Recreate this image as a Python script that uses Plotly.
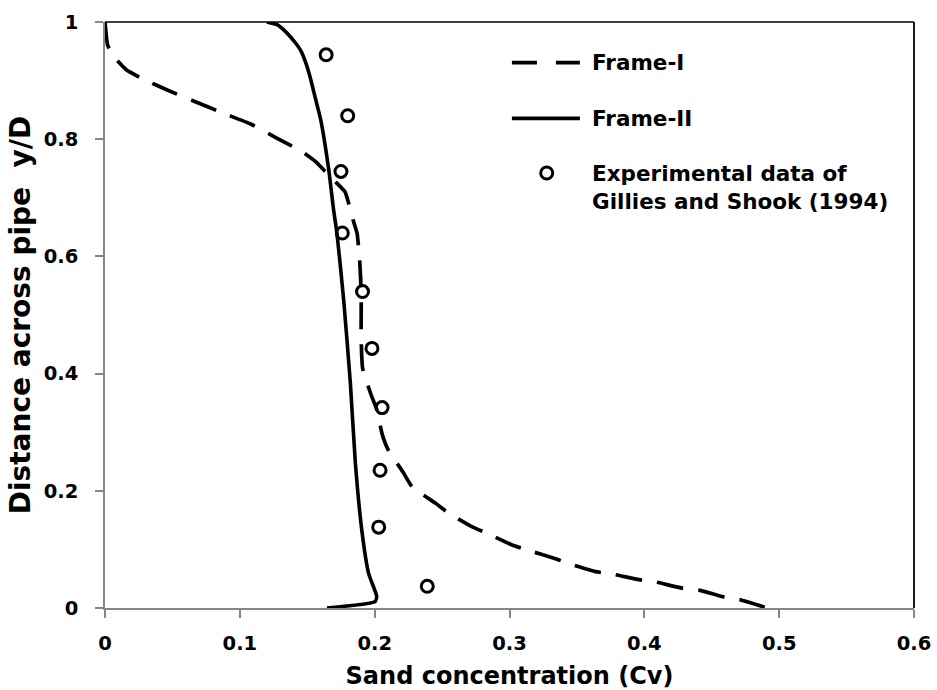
import plotly.graph_objects as go

# Frame-I model profile (sand concentration Cv vs. y/D)
frame1_cv = [0.000, 0.002, 0.008, 0.016, 0.027, 0.047, 0.067, 0.088, 0.108, 0.128,
             0.146, 0.156, 0.167, 0.178, 0.184, 0.187, 0.189, 0.190, 0.190, 0.191,
             0.197, 0.2017, 0.2054, 0.210, 0.221, 0.2277, 0.245, 0.2548, 0.272, 0.2833,
             0.302, 0.313, 0.333, 0.3438, 0.364, 0.376, 0.397, 0.407, 0.428, 0.440,
             0.460, 0.471, 0.491]
frame1_y = [1.000, 0.960, 0.937, 0.918, 0.904, 0.883, 0.864, 0.844, 0.826, 0.801,
            0.779, 0.762, 0.736, 0.710, 0.662, 0.639, 0.588, 0.540, 0.460, 0.410,
            0.366, 0.338, 0.298, 0.270, 0.232, 0.207, 0.179, 0.162, 0.139, 0.1275,
            0.1075, 0.099, 0.085, 0.076, 0.062, 0.058, 0.048, 0.045, 0.034, 0.031,
            0.018, 0.014, 0.000]

# Frame-II model profile
frame2_cv = [0.120, 0.128, 0.135, 0.141, 0.145, 0.149, 0.152, 0.156, 0.160, 0.166,
             0.1695, 0.172, 0.177, 0.182, 0.1856, 0.1906, 0.1955, 0.2015, 0.2003, 0.1646]
frame2_y = [1.000, 0.995, 0.981, 0.965, 0.952, 0.930, 0.907, 0.870, 0.833, 0.747,
            0.680, 0.640, 0.526, 0.383, 0.250, 0.130, 0.059, 0.020, 0.011, 0.000]

# Experimental data of Gillies and Shook (1994)
exp_cv = [0.239, 0.203, 0.204, 0.2055, 0.198, 0.191, 0.176, 0.175, 0.180, 0.164]
exp_y = [0.037, 0.138, 0.235, 0.342, 0.443, 0.540, 0.640, 0.745, 0.840, 0.944]

x_ticks = [0, 0.1, 0.2, 0.3, 0.4, 0.5, 0.6]
y_ticks = [0, 0.2, 0.4, 0.6, 0.8, 1.0]

FONT = "DejaVu Sans"
AXIS_GRAY = "#868686"

fig = go.Figure()
fig.add_trace(go.Scatter(x=frame1_cv, y=frame1_y, mode="lines", name="Frame-I",
                         line=dict(color="black", width=3.7, dash="27px,15px",
                                   shape="spline", smoothing=0.4)))
fig.add_trace(go.Scatter(x=frame2_cv, y=frame2_y, mode="lines", name="Frame-II",
                         line=dict(color="black", width=3.6, shape="spline", smoothing=0.5)))
fig.add_trace(go.Scatter(x=exp_cv, y=exp_y, mode="markers",
                         name="Experimental data of<br>Gillies and Shook (1994)",
                         marker=dict(symbol="circle-open", size=12, color="black",
                                     line=dict(width=3, color="black"))))

# Hand-placed legend: line samples, marker sample and labels
leg_x0, leg_x1, leg_text_x = 0.503, 0.587, 0.5995
shapes = [
    dict(type="line", xref="paper", yref="paper", x0=leg_x0, x1=leg_x1, y0=0.9306, y1=0.9306,
         line=dict(color="black", width=3.7, dash="25px,19px")),
    dict(type="line", xref="paper", yref="paper", x0=leg_x0, x1=leg_x1, y0=0.8357, y1=0.8357,
         line=dict(color="black", width=3.7)),
    dict(type="circle", xref="paper", yref="paper", xsizemode="pixel", ysizemode="pixel",
         xanchor=0.546, yanchor=0.7423, x0=-6, x1=6, y0=-6, y1=6,
         line=dict(color="black", width=3)),
    # plot-area frame on top and right
    dict(type="line", xref="paper", yref="paper", x0=0, x1=1, y0=1, y1=1,
         line=dict(color="black", width=1.5)),
    dict(type="line", xref="paper", yref="paper", x0=1, x1=1, y0=0, y1=1,
         line=dict(color="black", width=1.8)),
]
leg_font = dict(family=FONT, size=21.5, color="black", weight="bold")
annotations = [
    dict(xref="paper", yref="paper", x=leg_text_x, y=0.9306, text="Frame-I", showarrow=False,
         xanchor="left", yanchor="middle", font=leg_font),
    dict(xref="paper", yref="paper", x=leg_text_x, y=0.8357, text="Frame-II", showarrow=False,
         xanchor="left", yanchor="middle", font=leg_font),
    dict(xref="paper", yref="paper", x=leg_text_x, y=0.7184, align="left",
         text="Experimental data of<br>Gillies and Shook (1994)", showarrow=False,
         xanchor="left", yanchor="middle", font=leg_font),
]

tick_font = dict(family=FONT, size=19.5, color="black", weight="bold")

fig.update_layout(
    width=937, height=690,
    margin=dict(l=105, r=23, t=22, b=82),
    paper_bgcolor="white", plot_bgcolor="white",
    showlegend=False,
    shapes=shapes, annotations=annotations,
    xaxis=dict(range=[0, 0.6], tickvals=x_ticks, ticktext=[f"{v:g}" for v in x_ticks],
               showgrid=False, zeroline=False, showline=True, linecolor=AXIS_GRAY, linewidth=1.5,
               ticks="outside", ticklen=8, tickwidth=1.5, tickcolor=AXIS_GRAY,
               tickfont=tick_font, ticklabelstandoff=9, automargin=False,
               title=dict(text="Sand concentration (Cv)", standoff=14,
                          font=dict(family=FONT, size=24, color="black", weight="bold"))),
    yaxis=dict(range=[0, 1], tickvals=y_ticks, ticktext=[f"{v:g}" for v in y_ticks],
               showgrid=False, zeroline=False, showline=True, linecolor=AXIS_GRAY, linewidth=1.5,
               ticks="outside", ticklen=8, tickwidth=1.5, tickcolor=AXIS_GRAY,
               tickfont=tick_font, ticklabelstandoff=13, automargin=False,
               title=dict(text="Distance across pipe\u00a0\u00a0y/D", standoff=5,
                          font=dict(family=FONT, size=28, color="black", weight="bold"))),
)

fig.write_html("out.html")
